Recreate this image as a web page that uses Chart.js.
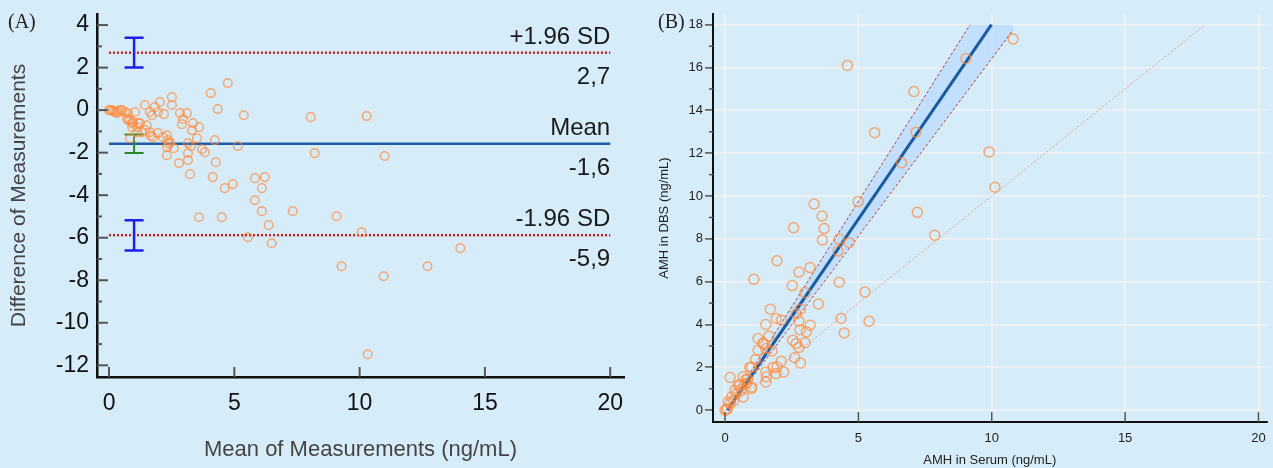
<!DOCTYPE html>
<html>
<head>
<meta charset="utf-8">
<script src="https://cdn.jsdelivr.net/npm/chart.js@4.4.1/dist/chart.umd.min.js"></script>
<style>
html,body{margin:0;padding:0;background:#d6ecf9;width:1273px;height:468px;overflow:hidden;}
#wa{position:absolute;left:0;top:0;width:640px;height:468px;}
#wb{position:absolute;left:640px;top:0;width:633px;height:468px;}
.lbl{position:absolute;font-family:"Liberation Serif","DejaVu Serif",serif;font-size:20px;line-height:20px;color:#222;}
</style>
</head>
<body>
<div id="wa"><canvas id="ca" width="640" height="468"></canvas></div>
<div id="wb"><canvas id="cb" width="633" height="468"></canvas></div>
<div class="lbl" style="left:8px;top:11px">(A)</div>
<div class="lbl" style="left:658px;top:11px">(B)</div>
<script>
// ---------- Panel A: Bland-Altman ----------
const meanVals = [0.0,0.04,0.12,0.16,0.24,0.32,0.36,0.44,0.52,0.64,0.76,1.04,0.72,0.76,0.84,0.92,0.96,1.16,1.12,0.92,1.24,1.12,1.31,1.51,1.43,1.63,1.75,1.95,2.15,2.31,2.35,2.43,2.31,2.59,2.31,0.84,1.43,1.83,2.03,1.63,1.95,2.19,1.71,2.51,2.51,2.83,3.11,2.95,2.91,3.35,3.59,3.31,3.51,4.22,5.14,3.15,3.27,3.71,3.82,3.15,3.15,2.79,4.26,3.23,4.14,4.06,4.34,4.74,5.38,4.62,4.94,5.82,6.22,6.10,5.82,6.10,6.37,7.33,3.59,4.50,5.54,6.49,8.05,8.21,9.08,10.08,10.28,11.0,9.28,10.96,12.71,14.02,10.32,1.66,2.4];
const diffVals = [0.0,0.0,0.0,-0.05,-0.09,-0.14,-0.05,0.0,0.0,-0.09,-0.14,-0.09,-0.38,-0.47,-0.47,-0.61,-0.56,-0.61,-0.8,-0.8,-0.61,-1.04,-1.04,-0.71,-0.94,-1.04,-1.27,-1.08,-1.27,-1.18,-1.41,-1.51,-1.74,-1.79,-2.12,-1.32,0.24,0.14,0.38,-0.09,-0.09,-0.19,-0.24,0.61,0.24,-0.14,-0.14,-0.42,-0.66,-0.61,-0.8,-0.94,-1.32,-1.41,-1.69,-1.55,-1.69,-1.84,-1.98,-2.02,-2.35,-2.49,-2.45,-3.01,-3.15,0.8,0.05,1.27,-0.24,-3.67,-3.48,-3.2,-3.15,-3.67,-4.24,-4.75,-5.41,-4.75,-5.04,-5.04,-5.98,-6.26,-0.33,-2.02,-4.99,-5.74,-0.28,-2.16,-7.34,-7.81,-7.34,-6.49,-11.48,-1.2,-1.6];
const limitX = [0, 20];
const upperLoA = 2.7;
const meanDiff = -1.58;
const lowerLoA = -5.88;
const ciX = 1;
const ciHalf = 0.38;
const ciUpper = [2.0, 3.4];
const ciMean = [-2.02, -1.15];
const ciLower = [-6.6, -5.18];
const loaLabels = [['+1.96 SD','2,7'],['Mean','-1,6'],['-1.96 SD','-5,9']];
const xTitleA = 'Mean of Measurements (ng/mL)';
const yTitleA = 'Difference of Measurements';

// ---------- Panel B: method comparison ----------
const serumVals = [4.59,7.08,5.61,7.16,6.62,7.21,4.99,3.34,3.64,3.72,2.57,7.86,9.03,10.8,9.9,10.12,3.65,4.28,4.66,4.24,1.95,3.19,2.77,1.08,4.28,2.52,5.25,3.0,3.5,1.7,2.83,2.67,1.92,4.35,5.4,1.53,2.11,2.77,3.19,2.81,3.05,4.47,1.24,1.65,1.43,2.54,2.67,3.0,1.53,2.77,1.76,2.61,2.83,1.15,0.99,2.11,1.8,1.92,2.2,1.53,1.53,1.55,0.19,0.68,0.78,0.56,0.99,0.68,0.44,0.34,0.19,0.0,0.09,0.93,0.81,0.05,0.12,0.25,0.37,0.5,1.0,1.95,1.43,1.24,0.6,0.72,0.85];
const dbsVals = [16.1,14.88,12.96,12.98,11.56,9.24,9.74,9.63,9.07,8.48,8.52,8.17,16.42,17.33,12.06,10.41,7.95,7.99,7.82,7.43,6.98,6.66,6.45,6.11,5.98,5.82,5.52,5.5,4.96,4.72,4.72,4.49,4.28,4.28,4.15,4.0,4.2,4.16,3.97,3.76,3.66,3.61,3.35,3.46,3.15,3.27,3.12,3.15,2.88,2.93,2.77,2.45,2.21,2.37,2.02,2.29,2.0,1.71,1.79,1.79,1.32,1.56,1.53,1.56,1.43,1.17,1.01,0.62,0.78,0.47,0.31,0.0,0.08,2.0,1.25,0.02,0.39,0.62,0.93,1.17,1.09,2.02,3.09,2.8,0.95,1.2,1.45];
const regX = [0.1, 9.99];
const regY = [0, 18];
const bandX = [0.05, 9.19, 10.8];
const bandUpper = [0, 18, 18];
const bandLower = [0, 15.1, 17.75];
const edgeUpX = [0.05, 9.19];
const edgeUpY = [0, 18];
const edgeLoX = [0.1, 10.8];
const edgeLoY = [0, 17.75];
const idX = [0, 18];
const idY = [0, 18];
const xTitleB = 'AMH in Serum (ng/mL)';
const yTitleB = 'AMH in DBS (ng/mL)';

const pts = (xs, ys) => xs.map((x, i) => ({x: x, y: ys[i]}));
function errBar(x, lo, hi, half) {
  return [
    {x: x - half, y: hi}, {x: x + half, y: hi}, {x: x, y: null},
    {x: x, y: hi}, {x: x, y: lo}, {x: x, y: null},
    {x: x - half, y: lo}, {x: x + half, y: lo}
  ];
}
const lineDs = (data, color, width, dash, extra) => Object.assign({
  type: 'scatter', data: data, showLine: true, borderColor: color, borderWidth: width,
  borderDash: dash || [], pointRadius: 0, pointHoverRadius: 0, fill: false, spanGaps: false
}, extra || {});

const FONT = '"Liberation Sans", Arial, sans-serif';
Chart.defaults.font.family = FONT;
Chart.defaults.animation = false;

function fixBox(prop, size) {
  return s => {
    s[prop] = size;
    s.paddingTop = 0; s.paddingBottom = 0; s.paddingLeft = 0; s.paddingRight = 0;
  };
}

const decoA = {
  id: 'decoA',
  afterDatasetsDraw(chart) {
    const ctx = chart.ctx, xs = chart.scales.x, ys = chart.scales.y;
    const left = chart.chartArea.left, bottom = chart.chartArea.bottom;
    ctx.save();
    ctx.strokeStyle = '#555'; ctx.lineWidth = 2;
    for (let v = -12; v <= 4; v++) {
      const p = ys.getPixelForValue(v);
      const len = (v % 2 === 0) ? 11 : 5;
      ctx.beginPath(); ctx.moveTo(left, p); ctx.lineTo(left + len, p); ctx.stroke();
    }
    for (let v = 0; v <= 20; v += 5) {
      const p = xs.getPixelForValue(v);
      ctx.beginPath(); ctx.moveTo(p, bottom); ctx.lineTo(p, bottom - 10); ctx.stroke();
    }
    ctx.fillStyle = '#1a1a1a';
    ctx.font = '24px ' + FONT;
    ctx.textAlign = 'right';
    ctx.textBaseline = 'alphabetic';
    const xr = xs.getPixelForValue(limitX[1]);
    [upperLoA, meanDiff, lowerLoA].forEach((val, i) => {
      const p = ys.getPixelForValue(val);
      ctx.fillText(loaLabels[i][0], xr, p - 9);
      ctx.fillText(loaLabels[i][1], xr, p + 31);
    });
    ctx.restore();
  }
};

new Chart(document.getElementById('ca'), {
  type: 'scatter',
  data: {
    datasets: [
      {
        data: pts(meanVals, diffVals), pointRadius: 4.3, pointHoverRadius: 4.3,
        borderColor: 'rgba(255,140,60,0.7)', backgroundColor: 'rgba(0,0,0,0)', borderWidth: 1.5
      },
      lineDs(errBar(ciX, ciUpper[0], ciUpper[1], ciHalf), '#1f1fe8', 2.5),
      lineDs(errBar(ciX, ciMean[0], ciMean[1], ciHalf), '#2a8a2a', 2),
      lineDs(errBar(ciX, ciLower[0], ciLower[1], ciHalf), '#1f1fe8', 2.5),
      lineDs(pts(limitX, [meanDiff, meanDiff]), '#1f5ca8', 2.5),
      lineDs(pts(limitX, [upperLoA, upperLoA]), '#c02828', 2.5, [2, 2]),
      lineDs(pts(limitX, [lowerLoA, lowerLoA]), '#c02828', 2.5, [2, 2])
    ]
  },
  options: {
    responsive: false,
    devicePixelRatio: 1,
    layout: {padding: {left: 0, right: 16, top: 14, bottom: 0}},
    plugins: {legend: {display: false}, tooltip: {enabled: false}},
    scales: {
      x: {
        type: 'linear', min: -0.48, max: 20.55,
        afterFit: fixBox('height', 91),
        ticks: {stepSize: 5, includeBounds: false, font: {size: 23}, color: '#111', padding: 13},
        grid: {drawOnChartArea: false, drawTicks: false},
        border: {display: true, color: '#111', width: 2.5},
        title: {display: true, text: xTitleA, font: {size: 22}, color: '#444', padding: {top: 0, bottom: 5}}
      },
      y: {
        type: 'linear', min: -12.55, max: 4.52,
        afterFit: fixBox('width', 97),
        ticks: {stepSize: 2, includeBounds: false, font: {size: 23}, color: '#111', padding: 8},
        grid: {drawOnChartArea: false, drawTicks: false},
        border: {display: true, color: '#111', width: 2.5},
        title: {display: true, text: yTitleA, font: {size: 21}, color: '#444', padding: {top: 7, bottom: 0}}
      }
    }
  },
  plugins: [decoA]
});

const decoB = {
  id: 'decoB',
  afterDatasetsDraw(chart) {
    const ctx = chart.ctx, xs = chart.scales.x, ys = chart.scales.y;
    const left = chart.chartArea.left, bottom = chart.chartArea.bottom;
    ctx.save();
    ctx.strokeStyle = '#555'; ctx.lineWidth = 1.5;
    for (let v = 1; v <= 17; v += 2) {
      const p = ys.getPixelForValue(v);
      ctx.beginPath(); ctx.moveTo(left, p); ctx.lineTo(left - 4, p); ctx.stroke();
    }
    for (let v = 0; v <= 20; v += 5) {
      const p = xs.getPixelForValue(v);
      ctx.beginPath(); ctx.moveTo(p, bottom); ctx.lineTo(p, bottom - 10); ctx.stroke();
    }
    ctx.restore();
  }
};

new Chart(document.getElementById('cb'), {
  type: 'scatter',
  data: {
    datasets: [
      {
        data: pts(serumVals, dbsVals), pointRadius: 5, pointHoverRadius: 5,
        borderColor: 'rgba(255,140,60,0.7)', backgroundColor: 'rgba(0,0,0,0)', borderWidth: 1.5
      },
      lineDs(pts(regX, regY), '#1b5aa0', 3),
      lineDs(pts(edgeUpX, edgeUpY), '#b04040', 1, [3, 2]),
      lineDs(pts(edgeLoX, edgeLoY), '#b04040', 1, [3, 2]),
      lineDs(pts(idX, idY), 'rgba(235,140,120,0.8)', 1, [2, 2]),
      lineDs(pts(bandX, bandUpper), 'rgba(0,0,0,0)', 0, [], {fill: '+1', backgroundColor: 'rgba(190,222,255,0.85)'}),
      lineDs(pts(bandX, bandLower), 'rgba(0,0,0,0)', 0)
    ]
  },
  options: {
    responsive: false,
    devicePixelRatio: 1,
    layout: {padding: {left: 0, right: 3, top: 14, bottom: 0}},
    plugins: {legend: {display: false}, tooltip: {enabled: false}},
    scales: {
      x: {
        type: 'linear', min: -0.45, max: 20.3,
        afterFit: fixBox('height', 46),
        ticks: {stepSize: 5, includeBounds: false, font: {size: 13}, color: '#222', padding: 9},
        grid: {color: 'rgba(238,242,244,1)', lineWidth: 1.8, drawTicks: false},
        border: {display: true, color: '#111', width: 2},
        title: {display: true, text: xTitleB, font: {size: 13}, color: '#222', padding: {top: 0, bottom: 0}}
      },
      y: {
        type: 'linear', min: -0.55, max: 18.5,
        afterFit: fixBox('width', 73),
        ticks: {stepSize: 2, includeBounds: false, font: {size: 13}, color: '#222', padding: 2},
        grid: {color: 'rgba(238,242,244,1)', lineWidth: 1.8, drawTicks: true, tickLength: 8, tickColor: '#555', tickWidth: 1.5},
        border: {display: true, color: '#111', width: 2},
        title: {display: true, text: yTitleB, font: {size: 13}, color: '#222', padding: {top: 17, bottom: 0}}
      }
    }
  },
  plugins: [decoB]
});
</script>
</body>
</html>
